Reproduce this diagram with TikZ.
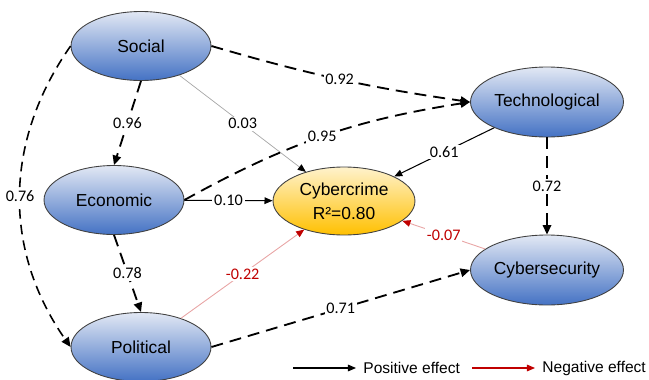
\documentclass[tikz,border=0pt]{standalone}
\usepackage{fontspec}
\setmainfont{Liberation Sans}
\newfontfamily\lblfont{Carlito}
\usepackage{tikz}
\usetikzlibrary{positioning}
\usetikzlibrary{shapes,arrows.meta}
\usepackage{xcolor}
\definecolor{ltblue}{HTML}{E2E8F4}
\definecolor{dkblue}{HTML}{4472C4}
\definecolor{ltgold}{HTML}{FFF2CC}
\definecolor{dkgold}{HTML}{FFC000}
\definecolor{negred}{HTML}{C00000}
\definecolor{negline}{HTML}{E8A4A4}

\begin{document}
\begin{tikzpicture}[x=0.02cm,y=-0.02cm,
  >={Triangle[length=5.4pt,width=4.8pt]},
  latent/.style={ellipse,draw=black!75,line width=0.5pt,top color=ltblue,bottom color=dkblue,
    inner sep=0pt,minimum width=2.8cm,minimum height=1.38cm,font=\fontsize{9.9}{12}\selectfont},
  wide/.style={minimum width=3.06cm,minimum height=1.4cm},
  target/.style={latent,top color=ltgold,bottom color=dkgold,align=center,
    minimum width=2.84cm,minimum height=1.36cm,font=\fontsize{9.9}{13.6}\selectfont},
  lbl/.style={fill=white,text=black,inner sep=1pt,font=\lblfont\fontsize{9.2}{10}\selectfont},
  nlbl/.style={lbl,text=negred},
  dlink/.style={->,line width=1.05pt,dash pattern=on 6.8pt off 4pt},
  plink/.style={->,line width=0.6pt,-{Triangle[length=4.6pt,width=3.8pt]}},
  glink/.style={black!35,line width=0.4pt,-{Triangle[length=4.6pt,width=3.8pt,color=black]}},
  nlink/.style={negline,line width=0.5pt,-{Triangle[length=4.6pt,width=3.8pt,color=negred]}},
  legtxt/.style={anchor=west,inner sep=4pt,font=\fontsize{8.85}{10}\selectfont}]
  \useasboundingbox (0,0) rectangle (649,379);
  % constructs
  \node[latent] (social) at (141,46) {Social};
  \node[latent] (economic) at (114,200) {Economic};
  \node[latent] (political) at (141,347) {Political};
  \node[latent,wide] (tech) at (547,102) {Technological};
  \node[latent,wide] (cybersec) at (547,270) {Cybersecurity};
  \node[target] (cybercrime) at (344,201) {Cybercrime\\R²=0.80};
  % paths between the constructs
  \draw[dlink] (social.east) to[bend right=4] node[lbl] {0.92} (tech.west);
  \draw[dlink] (social.south) -- node[lbl] {0.96} (economic.north);
  \draw[glink] (social) -- node[lbl] {0.03} (cybercrime);
  \draw[dlink,line width=0.9pt,dash pattern=on 5.5pt off 3.5pt] (social.west) to[bend right=35] node[lbl] {0.76} (political.west);
  \draw[dlink] (economic.east) to[bend left=10] node[lbl] {0.95} (tech.west);
  \draw[plink] (economic) -- node[lbl] {0.10} (cybercrime);
  \draw[dlink] (economic.south) -- node[lbl] {0.78} (political.north);
  \draw[nlink] (political) -- node[nlbl] {-0.22} (cybercrime);
  \draw[dlink] (political.east) -- node[lbl] {0.71} (cybersec.west);
  \draw[plink] (tech) -- node[lbl] {0.61} (cybercrime);
  \draw[dlink] (tech) -- node[lbl] {0.72} (cybersec);
  \draw[nlink] (cybersec) -- node[nlbl] {-0.07} (cybercrime);
  % legend
  \coordinate (posA) at (293,368);
  \node[legtxt] (postxt) at (356,368) {Positive effect};
  \draw[plink] (posA) -- (postxt.west);
  \coordinate (negA) at (472,368);
  \node[legtxt] (negtxt) at (535,368) {Negative effect};
  \draw[negred,line width=0.6pt,-{Triangle[length=4.6pt,width=3.8pt]}] (negA) -- (negtxt.west);
\end{tikzpicture}
\end{document}
